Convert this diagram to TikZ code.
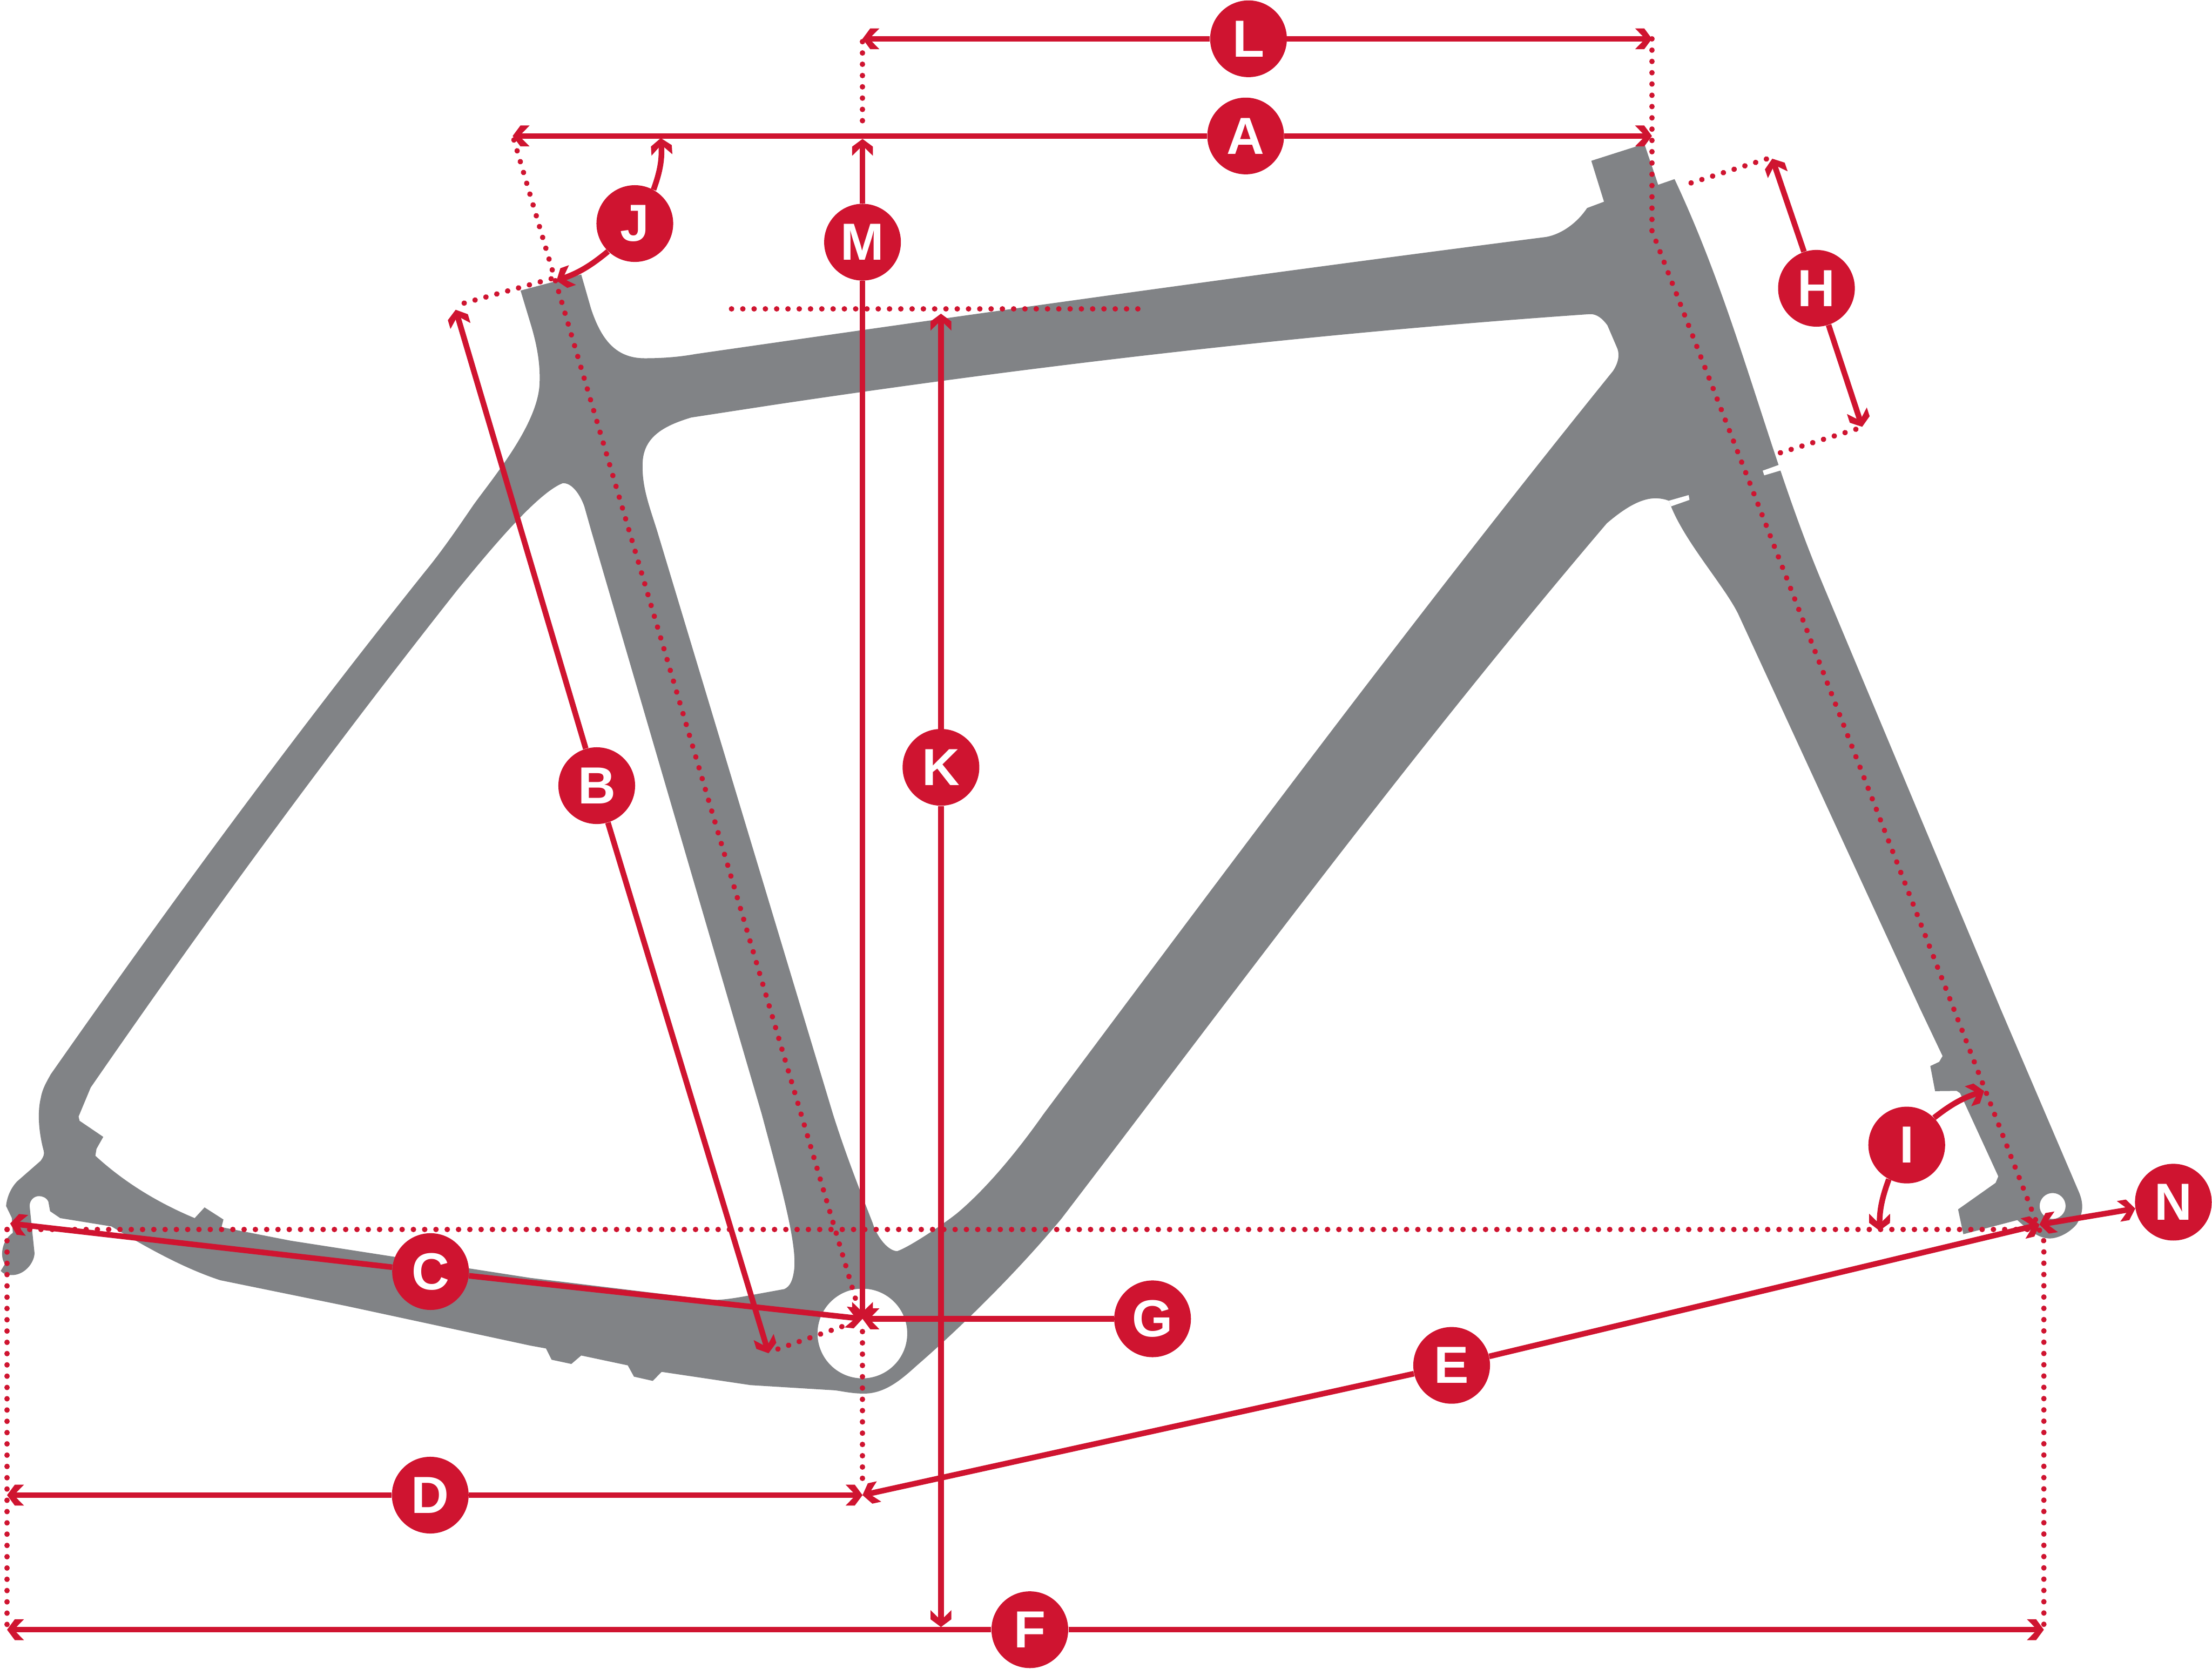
\documentclass[tikz,border=0pt]{standalone}
\usepackage{fontspec}
\setmainfont{Liberation Sans}
\usetikzlibrary{arrows.meta}
\definecolor{framegray}{HTML}{818386}
\definecolor{dimred}{HTML}{CF1430}
\pgfdeclarearrow{
  name = DimBarb,
  setup code = {
    \pgfarrowssettipend{0pt}
    \pgfarrowssetlineend{-5pt}
    \pgfarrowssetvisualbackend{-12pt}
    \pgfarrowshullpoint{0pt}{0pt}
    \pgfarrowsupperhullpoint{-12pt}{7.4pt}
  },
  drawing code = {
    \pgfpathmoveto{\pgfpoint{0pt}{0pt}}
    \pgfpathlineto{\pgfpoint{-5.5pt}{7.4pt}}
    \pgfpathlineto{\pgfpoint{-12pt}{7.4pt}}
    \pgfpathlineto{\pgfpoint{-6.6pt}{1.9pt}}
    \pgfpathlineto{\pgfpoint{-6.6pt}{-1.9pt}}
    \pgfpathlineto{\pgfpoint{-12pt}{-7.4pt}}
    \pgfpathlineto{\pgfpoint{-5.5pt}{-7.4pt}}
    \pgfpathclose
    \pgfusepathqfill
  }
}
\begin{document}
\begin{tikzpicture}[x=1pt,y=-1pt,>={DimBarb},
    dotline/.style={draw=dimred,line width=3.8pt,line cap=round,dash pattern=on 0.1pt off 7.9pt}]

      \useasboundingbox (0,0) rectangle (1568,1183);

      \fill[framegray,even odd rule] (369,206) -- (412,194.6) -- (419,219)
        .. controls (426,240) and (436,254) .. (457,254)
        .. controls (470,254) and (482,253) .. (493,251)
        .. controls (694,222) and (895,193.7) .. (1096,168)
        .. controls (1107,166) and (1118,158) .. (1125,147.5)
        -- (1137,143) -- (1128,114) -- (1165.6,102) -- (1175.4,131) -- (1187,127)
        .. controls (1232,222.7) and (1252.5,320) .. (1292,414)
        -- (1418,715) -- (1473.6,845)
        .. controls (1477,853) and (1477,860) .. (1472,868)
        .. controls (1466,875) and (1458,878) .. (1453,878)
        .. controls (1447,878) and (1441,875) .. (1430,865)
        -- (1391.7,875) -- (1388,857.4) -- (1414.6,838.6) -- (1416.5,834) -- (1389.4,775) -- (1387,773.4)
        -- (1371.7,773.6) -- (1368.3,755.8) -- (1374.6,752.8) -- (1377,748.7) -- (1361,715) -- (1232,435)
        .. controls (1222,415) and (1195,385) .. (1184.5,359)
        -- (1183,355)
        .. controls (1172,351) and (1160,353) .. (1139,371)
        .. controls (999.2,535.3) and (877.9,699.7) .. (752.4,864)
        .. controls (720,903) and (680,942) .. (650,968)
        .. controls (640,977) and (628,988) .. (612.5,988)
        .. controls (604,988) and (598,986.5) .. (592,985.7)
        -- (532,982) -- (469,972.6) -- (462.7,979) -- (449.4,976) -- (445,968) -- (412,961) -- (405,967) -- (391,964) -- (387,956) -- (376,954) -- (246,926) -- (156,907.6)
        .. controls (130,899) and (105,885) .. (79,869.5)
        -- (42.7,863.6) -- (35.5,858.7) -- (34.3,852)
        .. controls (33,849) and (30,848) .. (27.6,848)
        .. controls (24,848) and (21,851) .. (21,855)
        -- (24.5,888.6)
        .. controls (24,896) and (17,904) .. (8.4,904)
        .. controls (5,904) and (2,903) .. (0.5,901)
        -- (3.6,896)
        .. controls (0,892) and (0.5,880) .. (9.1,874)
        -- (8.4,863.5) -- (4.3,855)
        .. controls (5,848) and (8,842) .. (12,837.7)
        -- (28.8,823)
        .. controls (31,820) and (31.5,818) .. (31,816)
        .. controls (28,805) and (26,790) .. (29,778)
        .. controls (30,772) and (33,767) .. (36,761.6)
        .. controls (119.3,642.6) and (206.3,524) .. (301.5,405)
        .. controls (313,391) and (324,375) .. (335.6,358)
        .. controls (350,338) and (382,300) .. (382.5,271)
        .. controls (383,256) and (380,243) .. (376.8,231.8)
        -- cycle
        (602,278.8) -- (490,296)
        .. controls (470,302) and (456,310) .. (455.5,328.6)
        .. controls (455,345) and (460,358) .. (465.7,376)
        -- (590.5,790)
        .. controls (600,820) and (610,845) .. (618.5,866.8)
        .. controls (622,878) and (630,887) .. (636,887)
        .. controls (645,884) and (670,867) .. (678.6,860)
        .. controls (700,842) and (722,815) .. (739.6,790)
        .. controls (870.9,614.3) and (1001.4,438.7) .. (1143.4,263)
        .. controls (1148,256) and (1148,250) .. (1146,246)
        -- (1139.4,230.6)
        .. controls (1136,226) and (1132,222.5) .. (1127,222.7)
        .. controls (915,237.4) and (702,262.7) .. (490,296)
        -- cycle
        (398.8,342.6)
        .. controls (405,342) and (411,350) .. (414.2,359)
        -- (419,376) -- (540,790)
        .. controls (552,835) and (565,880) .. (563,899.6)
        .. controls (562,908) and (560,912) .. (556,913.9)
        -- (529.7,918.7)
        .. controls (520,920.5) and (510,922) .. (503.4,921.5)
        -- (376,906) -- (206,879.6) -- (157,870)
        -- (158.4,864.6) -- (145,856) -- (138,863.6)
        .. controls (115,854) and (90,840) .. (67.6,819.4)
        -- (68.4,814.5) -- (73.2,806) -- (56.4,794.6) -- (55.7,791.6) -- (64.3,771)
        .. controls (145.5,653.3) and (231.4,535.7) .. (324.4,418)
        .. controls (345,393) and (380,350) .. (398.8,342.6)
        -- cycle
        (611.3,945.4) circle (31.8)
        (1455,855) circle (9.2);
      \fill[white] (1262.6,329) -- (1249.5,333.7) -- (1250.6,337) -- (1264,333) -- cycle;
      \fill[white] (1183,355) -- (1197,351) -- (1197.6,354.4) -- (1184.5,359) -- cycle;

      \coordinate (lLeft)   at (611.4,27.5);
      \coordinate (lRight)  at (1171,27.5);
      \coordinate (aLeft)   at (363.4,96.4);
      \coordinate (aRight)  at (1171,96.4);
      \coordinate (mTop)    at (611.4,98.5);
      \coordinate (bb)      at (611.4,935);
      \coordinate (kTop)    at (667,222.4);
      \coordinate (kBot)    at (667,1153.5);
      \coordinate (fLeft)   at (5,1155.4);
      \coordinate (fRight)  at (1448.8,1155.4);
      \coordinate (dLeft)   at (5,1060);
      \coordinate (dRight)  at (611.4,1060);
      \coordinate (cLeft)   at (7.2,867.4);
      \coordinate (axle)    at (1445.7,868.2);
      \coordinate (bTop)    at (323,219.6);
      \coordinate (bBot)    at (544.8,959.4);
      \coordinate (hTop)    at (1256.3,112.5);
      \coordinate (hBot)    at (1320,302.6);
      \coordinate (jTop)    at (468.4,97.9);
      \coordinate (jBot)    at (394.5,199);
      \coordinate (iTop)    at (1406.4,773.5);
      \coordinate (iBot)    at (1332.3,872.5);

      \coordinate (seatBend) at (1171,163.7);
      \coordinate (axleLow)  at (1448.8,880);
      \coordinate (headTop)  at (364.3,99.2);
      \coordinate (headEnd)  at (606.5,921);
      \coordinate (stemA)    at (329,214.9);
      \coordinate (stemB)    at (393,197);
      \coordinate (btmA)     at (551.4,956.4);
      \coordinate (btmB)     at (604,938);
      \coordinate (hA)       at (1198.7,129.7);
      \coordinate (hB)       at (1256,111.5);
      \coordinate (hC)       at (1262,321);
      \coordinate (hD)       at (1319.8,303);
      \coordinate (kA)       at (518.5,219);
      \coordinate (kB)       at (810,219);
      \coordinate (horizA)   at (5,871.6);
      \coordinate (horizB)   at (1440,871.6);
      \coordinate (vertA)    at (611.4,29.5);
      \coordinate (vertB)    at (611.4,93);
      \coordinate (vertC)    at (611.4,944);
      \coordinate (vertD)    at (611.4,1054);

      \path[dotline] (lRight) -- (seatBend) -- (axleLow) -- (fRight);
      \path[dotline] (headTop) -- (headEnd);
      \path[dotline] (stemA) -- (stemB);
      \path[dotline] (btmA) -- (btmB);
      \path[dotline] (hA) -- (hB);
      \path[dotline] (hC) -- (hD);
      \path[dotline] (kA) -- (kB);
      \path[dotline] (horizA) -- (horizB);
      \path[dotline] (horizA) -- (fLeft);
      \path[dotline] (vertA) -- (vertB);
      \path[dotline] (vertC) -- (vertD);

      \begin{scope}[every node/.style={circle,fill=dimred,text=white,inner sep=0pt,minimum size=54.4pt,font=\fontsize{37}{37}\selectfont\bfseries}]
        \node (L) at (885,27.5)    {L};
        \node (A) at (883,96.4)    {A};
        \node (J) at (450,158.5)   {J};
        \node (M) at (611.4,171.7) {M};
        \node (H) at (1287.6,204.4) {H};
        \node (K) at (667,544)     {K};
        \node (B) at (423,557)     {B};
        \node (I) at (1351.6,811.8) {I};
        \node (N) at (1540.6,852.3) {N};
        \node (C) at (305.2,901.5) {C};
        \node (G) at (817,935)     {G};
        \node (E) at (1029,968)    {E};
        \node (D) at (305,1060)    {D};
        \node (F) at (730,1155.4)  {F};
      \end{scope}

      \begin{scope}[every edge/.style={draw=dimred,line width=4pt}]
        \path (L) edge[->] (lLeft);
        \path (L) edge[->] (lRight);
        \path (A) edge[->] (aLeft);
        \path (A) edge[->] (aRight);
        \path (M) edge[->] (mTop);
        \path (M) edge[->] (bb);
        \path (K) edge[->] (kTop);
        \path (K) edge[->] (kBot);
        \path (F) edge[->] (fLeft);
        \path (F) edge[->] (fRight);
        \path (D) edge[->] (dLeft);
        \path (D) edge[->] (dRight);
        \path (C) edge[->] (cLeft);
        \path (C) edge[->] (bb);
        \path (G) edge[->] (bb);
        \path (E) edge[->] (dRight);
        \path (E) edge[->] (axle);
        \path (B) edge[->] (bTop);
        \path (B) edge[->] (bBot);
        \path (H) edge[->] (hTop);
        \path (H) edge[->] (hBot);
        \path (N) edge[<->] (axle);
        \path (J) edge[->,bend right=12] (jTop);
        \path (J) edge[->,bend left=10] (jBot);
        \path (I) edge[->,bend left=10] (iTop);
        \path (I) edge[->,bend right=10] (iBot);
      \end{scope}

    \end{tikzpicture}
\end{document}
